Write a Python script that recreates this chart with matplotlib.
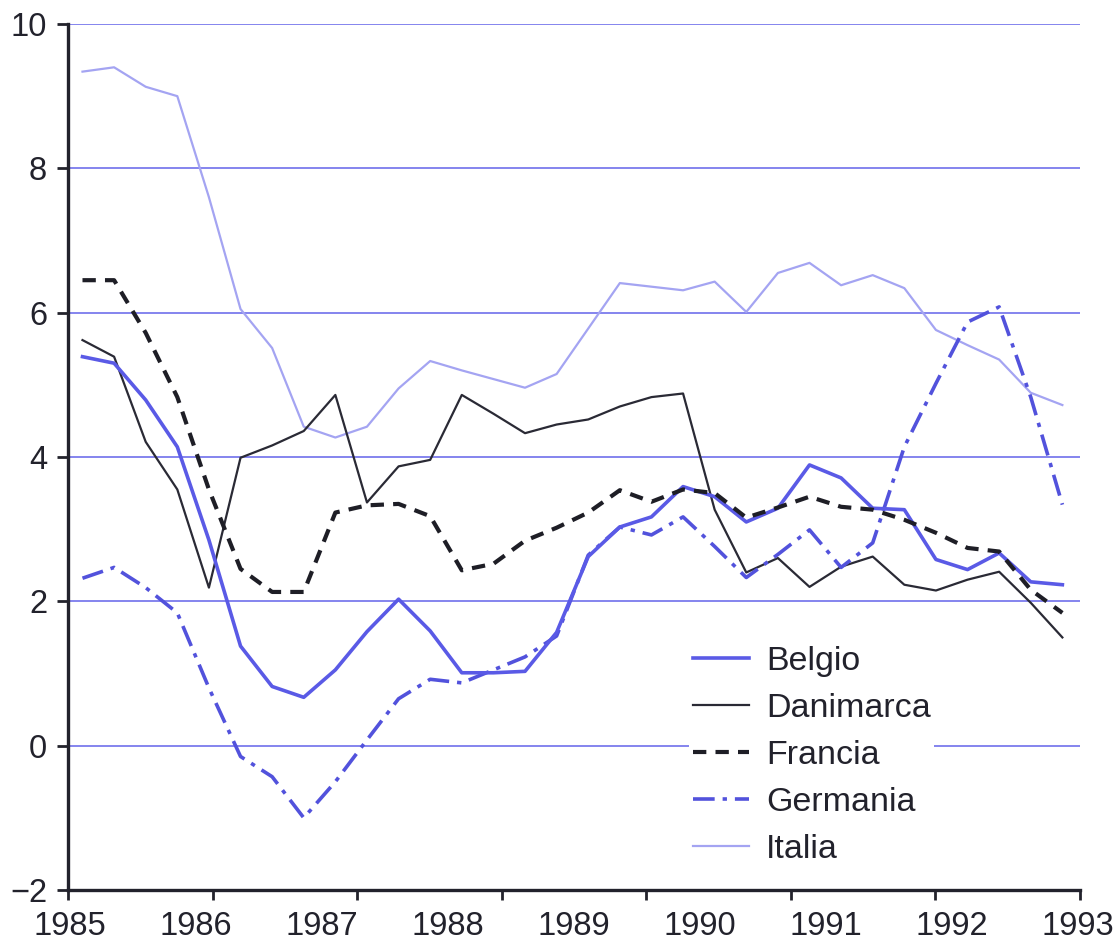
import numpy as np
import matplotlib
matplotlib.use("Agg")
import matplotlib.pyplot as plt

# quarterly values, 1985Q1 - 1992Q4
belgio = [5.39, 5.30, 4.79, 4.14, 2.85, 1.38, 0.82, 0.67, 1.05, 1.58, 2.03, 1.59,
          1.01, 1.01, 1.03, 1.57, 2.62, 3.03, 3.17, 3.59, 3.45, 3.10, 3.29, 3.89,
          3.71, 3.29, 3.27, 2.58, 2.44, 2.67, 2.27, 2.23]
danimarca = [5.62, 5.39, 4.21, 3.55, 2.19, 3.99, 4.16, 4.36, 4.86, 3.37, 3.87, 3.96,
             4.86, 4.60, 4.33, 4.45, 4.52, 4.70, 4.83, 4.88, 3.27, 2.40, 2.60, 2.20,
             2.48, 2.62, 2.23, 2.15, 2.30, 2.41, 1.98, 1.50]
francia = [6.45, 6.45, 5.72, 4.83, 3.55, 2.45, 2.13, 2.13, 3.23, 3.33, 3.35, 3.18,
           2.43, 2.52, 2.84, 3.02, 3.23, 3.54, 3.38, 3.55, 3.50, 3.16, 3.30, 3.45,
           3.31, 3.27, 3.13, 2.95, 2.74, 2.69, 2.16, 1.84]
germania = [2.32, 2.47, 2.19, 1.84, 0.80, -0.15, -0.43, -1.00, -0.50, 0.08, 0.65, 0.92,
            0.87, 1.05, 1.23, 1.52, 2.64, 3.03, 2.92, 3.17, 2.76, 2.33, 2.65, 2.99,
            2.47, 2.81, 4.14, 5.02, 5.87, 6.08, 4.83, 3.34]
italia = [9.34, 9.40, 9.13, 9.00, 7.60, 6.05, 5.51, 4.42, 4.27, 4.42, 4.95, 5.33,
          5.20, 5.08, 4.96, 5.15, 5.78, 6.41, 6.36, 6.31, 6.43, 6.01, 6.55, 6.69,
          6.38, 6.52, 6.34, 5.76, 5.55, 5.35, 4.89, 4.72]

anni = list(range(1985, 1994))
y_ticks = [-2, 0, 2, 4, 6, 8, 10]

t = np.linspace(1985.1, 1992.88, len(belgio))

fig = plt.figure(figsize=(11.2, 9.5), dpi=100)
ax = fig.add_axes([68 / 1120, 1 - 890 / 950, 1012 / 1120, 866 / 950])

grid_col = "#8484ee"
for v in y_ticks[1:]:
    ax.axhline(v, color=grid_col, lw=1.4, zorder=1)

ax.plot(t, italia, color="#a4a4f2", lw=1.6, label="Italia", zorder=3)
ax.plot(t, danimarca, color="#2a2a35", lw=1.6, label="Danimarca", zorder=4)
ax.plot(t, germania, color="#5252dc", lw=2.6, ls=(0, (6, 2.2, 1.2, 2.2)), label="Germania", zorder=4)
ax.plot(t, belgio, color="#5a5ae6", lw=2.6, label="Belgio", zorder=5)
ax.plot(t, francia, color="#1e1e26", lw=3.0, ls=(0, (3.2, 2.2)), label="Francia", zorder=6)

ax.set_xlim(1984.985, 1993.02)
ax.set_ylim(-2, 10)

for s in ["top", "right"]:
    ax.spines[s].set_visible(False)
for s in ["left", "bottom"]:
    ax.spines[s].set_linewidth(2.4)
    ax.spines[s].set_color("#22222c")

font = ["Liberation Sans", "DejaVu Sans"]
ax.set_yticks(y_ticks)
ax.set_yticklabels(["\u22122" if v < 0 else str(v) for v in y_ticks], family=font, fontsize=23.5)
ax.tick_params(axis="y", length=8, width=2, pad=7, colors="#22222c")

ax.set_xticks(anni)
ax.set_xticklabels([str(a) for a in anni], family=font, fontsize=23.5)
ax.set_xticks(np.linspace(1984.985, 1993.02, 8), minor=True)
ax.tick_params(axis="x", which="major", length=0, pad=15, colors="#22222c")
ax.tick_params(axis="x", which="minor", length=7, width=2, colors="#22222c")

order = ["Belgio", "Danimarca", "Francia", "Germania", "Italia"]
handles, labels = ax.get_legend_handles_labels()
hmap = dict(zip(labels, handles))
leg = ax.legend([hmap[k] for k in order], order, loc="upper left",
                bbox_to_anchor=(0.614, 0.2855), borderaxespad=0, borderpad=0.1,
                handlelength=1.65, handletextpad=0.5, labelspacing=0.47,
                frameon=True, fancybox=False, framealpha=1,
                prop={"family": font, "size": 24.5})
leg.get_frame().set_edgecolor("none")
leg.get_frame().set_facecolor("white")
leg.set_zorder(10)
for txt in leg.get_texts():
    txt.set_color("#22222c")

fig.savefig("out.png", dpi=100)
